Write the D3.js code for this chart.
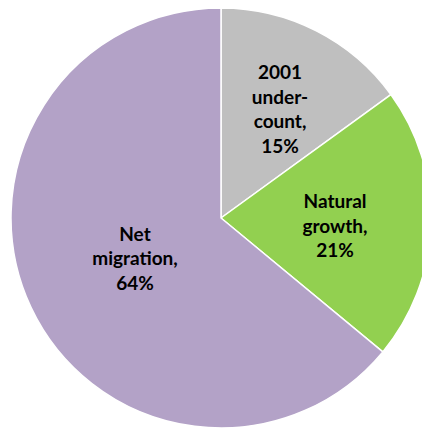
<!DOCTYPE html>
<html><head><meta charset="utf-8">
<script src="https://cdn.jsdelivr.net/npm/d3@7"></script>
<style>body{margin:0;background:#fff;overflow:hidden}svg{display:block}</style>
</head><body><svg id="c" width="422" height="429"></svg>
<script>
const categories = ["2001 under-count", "Natural growth", "Net migration"];
const values = [15, 21, 64];
const labelLines = [["2001", "under-", "count,", "15%"], ["Natural", "growth,", "21%"], ["Net", "migration,", "64%"]];
const colors = ["#bfbfbf", "#92d050", "#b3a2c7"];
const labelPos = [[280, 109], [335, 225.5], [135, 258]];

const svg = d3.select("#c");
const cx = 221, cy = 218, R = 210;
const pie = d3.pie().sort(null).value(d => d)(values);
const arc = d3.arc().innerRadius(0).outerRadius(R);
const g = svg.append("g").attr("transform", `translate(${cx},${cy})`);
g.selectAll("path").data(pie).join("path")
  .attr("d", arc).attr("fill", (d, i) => colors[i])
  .attr("stroke", "#fff").attr("stroke-width", 1.5);

labelLines.forEach((lines, i) => {
  const t = svg.append("text").attr("text-anchor", "middle")
    .attr("font-family", "Lato, sans-serif").attr("font-weight", "bold")
    .attr("font-size", 19).attr("fill", "#000");
  const n = lines.length;
  lines.forEach((l, j) => {
    t.append("tspan").attr("x", labelPos[i][0])
      .attr("y", labelPos[i][1] + (j - (n - 1) / 2) * 24.5 + 7).text(l);
  });
});
</script></body></html>
